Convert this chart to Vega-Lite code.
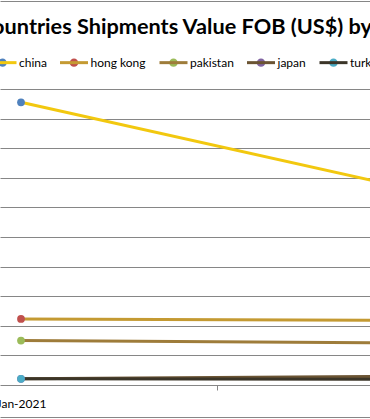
{
  "$schema": "https://vega.github.io/schema/vega-lite/v6.json",
  "width": 370,
  "height": 296,
  "autosize": "none",
  "padding": {"left": 0, "top": 89, "right": 0, "bottom": 34},
  "background": "white",
  "config": {"view": {"stroke": null}, "font": "Lato"},
  "title": {
    "text": "Countries Shipments Value FOB (US$) by Month",
    "anchor": "start",
    "frame": "group",
    "dx": -22,
    "offset": -38,
    "font": "Lato",
    "fontSize": 21.7,
    "fontWeight": "bold",
    "color": "#000000"
  },
  "data": {
    "values": [
      {"month": "2021-01-01T00:00:00", "country": "china", "value": 9550000},
      {"month": "2021-02-01T00:00:00", "country": "china", "value": 6610000},
      {"month": "2021-01-01T00:00:00", "country": "hong kong", "value": 2230000},
      {"month": "2021-02-01T00:00:00", "country": "hong kong", "value": 2180000},
      {"month": "2021-01-01T00:00:00", "country": "pakistan", "value": 1500000},
      {"month": "2021-02-01T00:00:00", "country": "pakistan", "value": 1420000},
      {"month": "2021-01-01T00:00:00", "country": "japan", "value": 210000},
      {"month": "2021-02-01T00:00:00", "country": "japan", "value": 300000},
      {"month": "2021-01-01T00:00:00", "country": "turkey", "value": 210000},
      {"month": "2021-02-01T00:00:00", "country": "turkey", "value": 190000}
    ]
  },
  "encoding": {
    "x": {
      "field": "month",
      "type": "temporal",
      "scale": {"domain": [
        {"year": 2020, "month": 12, "date": 30, "hours": 8, "minutes": 5},
        {"year": 2021, "month": 1, "date": 28, "hours": 15, "minutes": 24}
      ]}
    },
    "y": {
      "field": "value",
      "type": "quantitative",
      "scale": {"domain": [0, 10000000]},
      "axis": {
        "title": null,
        "labels": false,
        "ticks": false,
        "domain": false,
        "grid": true,
        "gridColor": "#868686",
        "values": [1000000, 2000000, 3000000, 4000000, 5000000, 6000000, 7000000, 8000000, 9000000, 10000000]
      }
    },
    "stroke": {
      "field": "country",
      "type": "nominal",
      "scale": {
        "domain": ["china", "hong kong", "pakistan", "japan", "turkey"],
        "range": ["#F2C80F", "#C49A32", "#9E7C3A", "#6B5433", "#3B3528"]
      },
      "legend": {
        "orient": "none",
        "legendX": -13,
        "legendY": -42,
        "direction": "horizontal",
        "title": null,
        "symbolType": "M1,0H-1H1M0.3,0A0.3,0.3,0,1,1,-0.3,0A0.3,0.3,0,1,1,0.3,0Z",
        "symbolSize": 784,
        "symbolStrokeWidth": 3,
        "symbolDash": [28, 28],
        "symbolDashOffset": 28,
        "symbolOpacity": 1,
        "labelFont": "Lato",
        "labelFontSize": 12,
        "labelColor": "#000000",
        "labelOffset": 1,
        "columnPadding": 6.5,
        "encoding": {
          "symbols": {
            "fill": {"value": {"expr": "scale('fill', datum.value)"}},
            "fillOpacity": {"value": 1}
          }
        }
      }
    }
  },
  "layer": [
    {
      "transform": [{"filter": "datum.country == 'china' || datum.country == 'hong kong' || datum.country == 'pakistan'"}],
      "mark": {"type": "line", "strokeWidth": 3, "clip": true},
      "encoding": {
        "x": {
          "field": "month",
          "type": "temporal",
          "axis": {
            "title": null,
            "grid": false,
            "values": [
              {"year": 2021, "month": 1, "date": 1},
              {"year": 2021, "month": 1, "date": 16, "hours": 12}
            ],
            "labelExpr": "date(datum.value) == 1 ? timeFormat(datum.value, '%b-%Y') : ''",
            "tickOpacity": {"condition": {"test": "date(datum.value) == 1", "value": 0}, "value": 1},
            "domainColor": "#868686",
            "tickColor": "#868686",
            "tickSize": 5,
            "labelFont": "Lato",
            "labelFontSize": 12,
            "labelColor": "#000000",
            "labelPadding": 8,
            "labelFlush": false,
            "labelOverlap": false
          }
        }
      }
    },
    {
      "transform": [{"filter": "datum.country == 'japan' || datum.country == 'turkey'"}],
      "mark": {"type": "line", "strokeWidth": 3, "clip": true},
      "encoding": {
        "x": {
          "field": "month",
          "type": "temporal",
          "axis": {
            "title": null,
            "orient": "bottom",
            "offset": 32,
            "labels": false,
            "ticks": false,
            "grid": false,
            "domainColor": "#868686"
          }
        }
      }
    },
    {
      "transform": [{"filter": "month(datum.month) == 0"}],
      "mark": {"type": "point", "filled": true, "size": 60, "opacity": 1},
      "encoding": {
        "x": {
          "field": "month",
          "type": "temporal",
          "axis": {
            "title": null,
            "orient": "top",
            "offset": 88,
            "labels": false,
            "ticks": false,
            "grid": false,
            "domainColor": "#868686"
          }
        },
        "stroke": null,
        "fill": {
          "field": "country",
          "type": "nominal",
          "sort": ["china", "hong kong", "pakistan", "japan", "turkey"],
          "scale": {"range": ["#4F81BD", "#C0504D", "#9BBB59", "#8064A2", "#4BACC6"]},
          "legend": null
        }
      }
    }
  ],
  "resolve": {"axis": {"x": "independent"}}
}
